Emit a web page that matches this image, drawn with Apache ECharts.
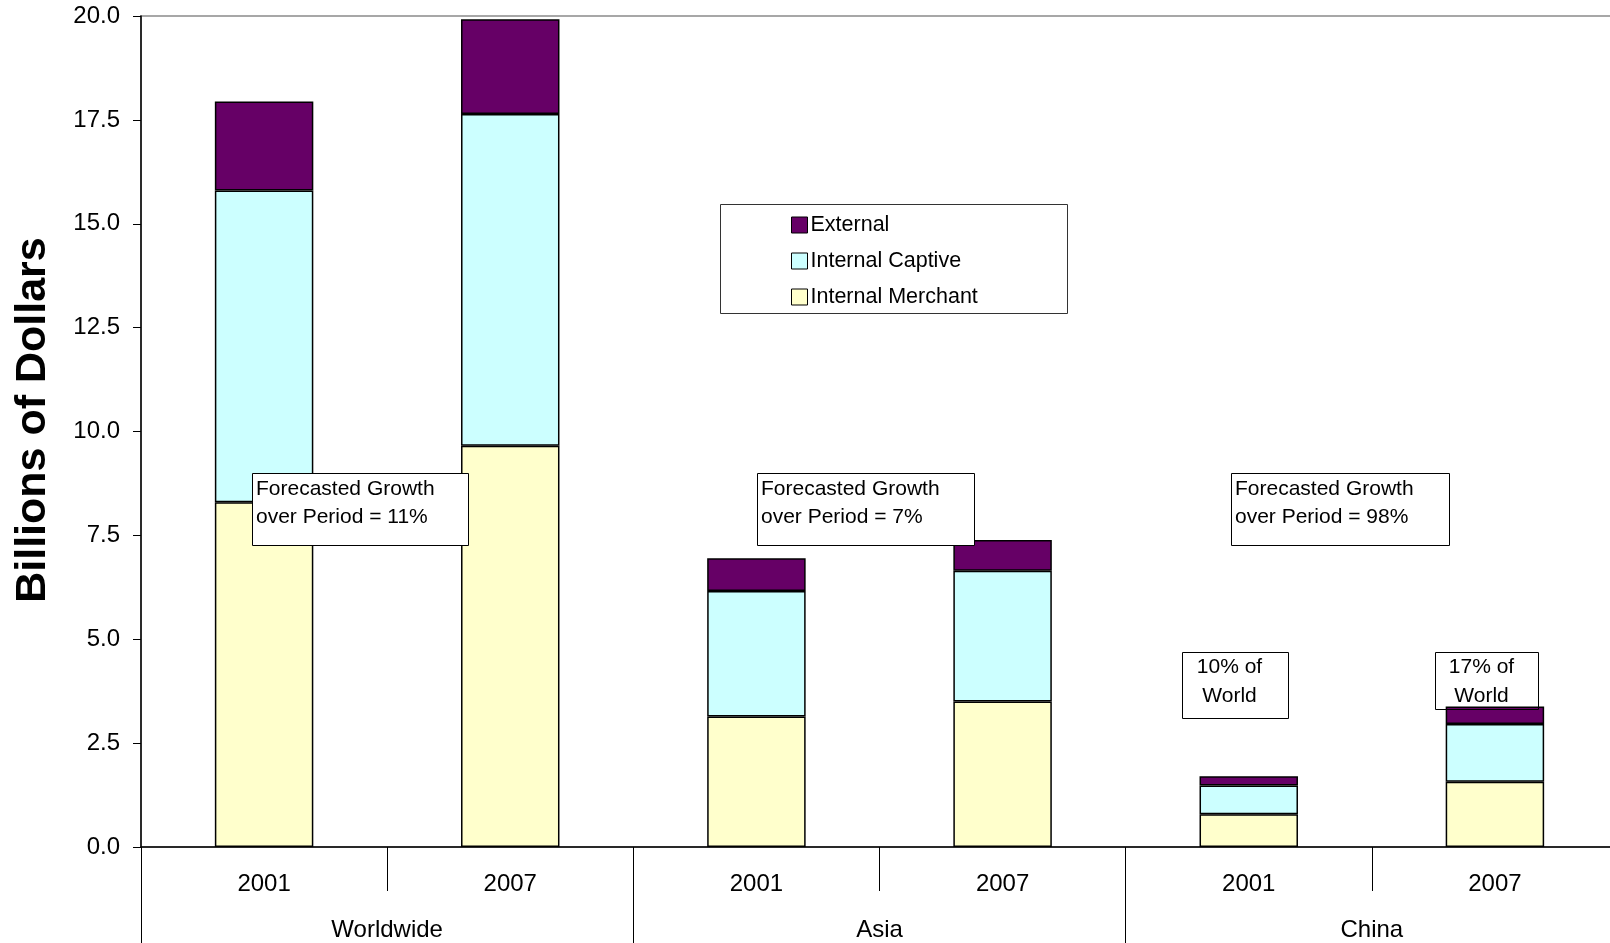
<!DOCTYPE html>
<html>
<head>
<meta charset="utf-8">
<script src="https://cdn.jsdelivr.net/npm/echarts@6/dist/echarts.min.js"></script>
<style>
html,body{margin:0;padding:0;background:#fff;}
#chart{width:1610px;height:943px;}
</style>
</head>
<body>
<div id="chart"></div>
<script>
// ---- data ----
const groups = ['Worldwide', 'Asia', 'China'];
const years = ['2001', '2007'];
const seriesNames = ['Internal Merchant', 'Internal Captive', 'External'];
const merchant = [8.30, 9.66, 3.14, 3.50, 0.79, 1.57];
const captive  = [7.50, 7.98, 3.02, 3.15, 0.69, 1.39];
const external = [2.14, 2.28, 0.79, 0.74, 0.22, 0.42];
const yMin = 0, yMax = 20, yStep = 2.5;
const yTitle = 'Billions of Dollars';
const growthNotes = ['Forecasted Growth\nover Period = 11%', 'Forecasted Growth\nover Period = 7%', 'Forecasted Growth\nover Period = 98%'];
const shareNotes = ['10% of\nWorld', '17% of\nWorld'];

// ---- build ----
const FONT = '"Liberation Sans", Arial, Helvetica, sans-serif';
const categories = [];
groups.forEach(g => years.forEach(y => categories.push(g + '|' + y)));
const colors = { 'Internal Merchant': '#FFFFCC', 'Internal Captive': '#CCFFFF', 'External': '#660066' };
const values = { 'Internal Merchant': merchant, 'Internal Captive': captive, 'External': external };

const chart = echarts.init(document.getElementById('chart'), null, { renderer: 'canvas' });

function boxRect(x, y, w, h, fill) {
  return { type: 'rect', z: 100, shape: { x: x, y: y, width: w, height: h },
           style: { fill: fill, stroke: '#000', lineWidth: 1 } };
}
function noteText(x, y, text, align) {
  return { type: 'text', z: 101, style: { x: x, y: y, text: text, font: '21px ' + FONT,
           lineHeight: 28.5, fill: '#000', align: align || 'left', verticalAlign: 'top' } };
}

const graphics = [
  { type: 'rect', z: 3, shape: { x: 720.5, y: 204.5, width: 347, height: 109 },
    style: { fill: 'none', stroke: '#333', lineWidth: 1 } },
  { type: 'text', z: 10, x: 33, y: 420, rotation: Math.PI / 2,
    style: { text: yTitle, font: 'bold 43px ' + FONT, fill: '#000', align: 'center', verticalAlign: 'middle' } },
  boxRect(252.5, 473.5, 216, 72, '#fff'), noteText(256, 474.5, growthNotes[0]),
  boxRect(757.5, 473.5, 217, 72, '#fff'), noteText(761, 474.5, growthNotes[1]),
  boxRect(1231.5, 473.5, 218, 72, '#fff'), noteText(1235, 474.5, growthNotes[2]),
  boxRect(1182.5, 652.5, 106, 66, '#fff'), noteText(1229.5, 653, shareNotes[0], 'center'),
  boxRect(1435.5, 652.5, 103, 57, 'rgba(255,255,255,0.0)'), noteText(1481.5, 653, shareNotes[1], 'center')
];

const option = {
  animation: false,
  backgroundColor: '#fff',
  textStyle: { fontFamily: FONT },
  grid: { left: 141, top: 16, width: 1477, height: 831, containLabel: false, outerBoundsMode: 'none',
          show: true, borderColor: '#8a8a8a', borderWidth: 1.5, backgroundColor: 'transparent' },
  legend: {
    data: ['External', 'Internal Captive', 'Internal Merchant'],
    orient: 'vertical', left: 791, top: 214, padding: 0,
    itemWidth: 16, itemHeight: 16, itemGap: 14,
    icon: 'rect',
    itemStyle: { borderColor: '#000', borderWidth: 1 },
    textStyle: { fontSize: 21.5, color: '#000', fontFamily: FONT, lineHeight: 21, padding: [0, 0, 0, -2] }
  },
  xAxis: [
    {
      type: 'category', data: categories, gridIndex: 0, position: 'bottom',
      axisLine: { show: true, lineStyle: { color: '#000', width: 1.5 } },
      axisTick: { show: true, interval: 0, length: 44, lineStyle: { color: '#000', width: 1 } },
      axisLabel: { interval: 0, margin: 25, fontSize: 24, color: '#000', fontFamily: FONT,
                   formatter: v => v.split('|')[1] }
    },
    {
      type: 'category', data: groups, gridIndex: 0, position: 'bottom',
      axisLine: { show: false },
      axisTick: { show: true, interval: 0, length: 96, lineStyle: { color: '#000', width: 1 } },
      axisLabel: { interval: 0, margin: 71, fontSize: 24, color: '#000', fontFamily: FONT }
    }
  ],
  yAxis: {
    type: 'value', min: yMin, max: yMax, interval: yStep,
    axisLine: { show: true, lineStyle: { color: '#000', width: 1.5 } },
    axisTick: { show: true, inside: false, length: 8, lineStyle: { color: '#000', width: 1 } },
    splitLine: { show: false },
    axisLabel: { margin: 21, fontSize: 24, color: '#000', fontFamily: FONT, formatter: v => v.toFixed(1) }
  },
  series: seriesNames.map(n => ({
    name: n, type: 'bar', stack: 'total', barWidth: '40%', xAxisIndex: 0,
    data: values[n],
    itemStyle: { color: colors[n], borderColor: '#000', borderWidth: 1.5 }
  })),
  graphic: graphics
};
chart.setOption(option);
</script>
</body>
</html>
